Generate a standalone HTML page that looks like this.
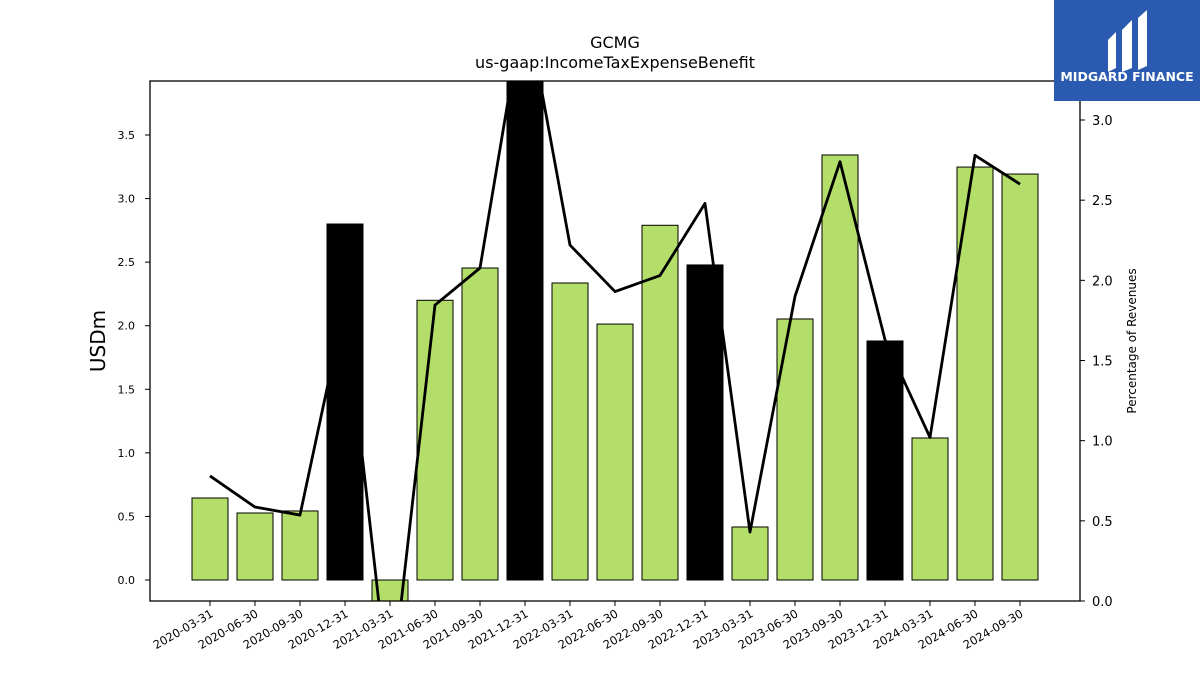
<!DOCTYPE html>
<html><head><meta charset="utf-8"><style>
body{margin:0;background:#fff;font-family:"Liberation Sans","DejaVu Sans",sans-serif;}
svg text{font-family:"DejaVu Sans","Liberation Sans",sans-serif;}
</style></head><body>
<svg id="c" width="1200" height="675" xmlns="http://www.w3.org/2000/svg">
<text x="615" y="48" text-anchor="middle" font-size="16">GCMG</text>
<text x="615" y="68" text-anchor="middle" font-size="16">us-gaap:IncomeTaxExpenseBenefit</text>
<defs><clipPath id="pc"><rect x="150" y="81" width="930" height="520"/></clipPath></defs>
<g id="bars" clip-path="url(#pc)"></g>
<g id="line" clip-path="url(#pc)"></g>
<rect x="150" y="81" width="930" height="520" fill="none" stroke="#000" stroke-width="1.3"/>
<g id="axes"></g>
<text transform="translate(105,341) rotate(-90)" text-anchor="middle" font-size="20">USDm</text>
<text transform="translate(1136,341) rotate(-90)" text-anchor="middle" font-size="12">Percentage of Revenues</text>
<g>
<rect x="1054" y="0" width="146" height="101" fill="#2b5bb0"/>
<path d="M1108 40 L1116 32 L1116 68 L1108 72 Z" fill="#fff"/>
<path d="M1122 30 L1132 20 L1132 68 L1122 72 Z" fill="#fff"/>
<path d="M1138 18 L1147 10 L1147 66 L1138 70 Z" fill="#fff"/>
<text x="1127" y="81" text-anchor="middle" font-size="12.5" font-weight="bold" fill="#fff" font-family="Liberation Sans">MIDGARD FINANCE</text>
</g>
</svg>
<script>
const categories=["2020-03-31","2020-06-30","2020-09-30","2020-12-31","2021-03-31","2021-06-30","2021-09-30","2021-12-31","2022-03-31","2022-06-30","2022-09-30","2022-12-31","2023-03-31","2023-06-30","2023-09-30","2023-12-31","2024-03-31","2024-06-30","2024-09-30"];
const barValues=[0.645,0.527,0.543,2.80,-0.25,2.20,2.454,4.1,2.336,2.013,2.79,2.478,0.417,2.053,3.343,1.88,1.117,3.248,3.193];
const annualFlags=[0,0,0,1,0,0,0,1,0,0,0,1,0,0,0,1,0,0,0];
const pctValues=[0.78,0.586,0.536,1.85,-0.62,1.846,2.077,3.75,2.22,1.93,2.03,2.48,0.43,1.90,2.74,1.63,1.02,2.78,2.60];
const yTicks=[0,0.5,1,1.5,2,2.5,3,3.5];
const y2Ticks=[0,0.5,1,1.5,2,2.5,3];
const NS="http://www.w3.org/2000/svg";
const xS=i=>210+i*45;
const yS=v=>580-v*127.14;
const y2S=v=>601-v*160.33;
function mk(t,a,p){const e=document.createElementNS(NS,t);for(const k in a)e.setAttribute(k,a[k]);p.appendChild(e);return e;}
const bars=document.getElementById('bars'),line=document.getElementById('line'),axes=document.getElementById('axes');
barValues.forEach((v,i)=>{
 const y0=yS(0),y1=yS(v);
 const r=mk('rect',{x:xS(i)-18,y:Math.min(y0,y1),width:36,height:Math.abs(y1-y0),fill:annualFlags[i]?'#000':'#b3de69',stroke:'#000','stroke-width':1},bars);
 
 
});
const pl=mk('polyline',{points:pctValues.map((v,i)=>xS(i)+','+y2S(v)).join(' '),fill:'none',stroke:'#000','stroke-width':2.8,'stroke-linejoin':'round'},line);


yTicks.forEach(v=>{const y=yS(v);mk('line',{x1:145,x2:150,y1:y,y2:y,stroke:'#000'},axes);
 const t=mk('text',{x:135,y:y+4,'text-anchor':'end','font-size':11},axes);t.textContent=v.toFixed(1);
 });
y2Ticks.forEach(v=>{const y=y2S(v);mk('line',{x1:1080,x2:1085,y1:y,y2:y,stroke:'#000'},axes);
 const t=mk('text',{x:1092,y:y+5,'font-size':13},axes);t.textContent=v.toFixed(1);
 });
categories.forEach((c,i)=>{const x=xS(i);mk('line',{x1:x,x2:x,y1:601,y2:606,stroke:'#000'},axes);
 const t=mk('text',{transform:`translate(${x+4},${616}) rotate(-30)`,'text-anchor':'end','font-size':11.5},axes);t.textContent=c;
 });
</script>
</body></html>
